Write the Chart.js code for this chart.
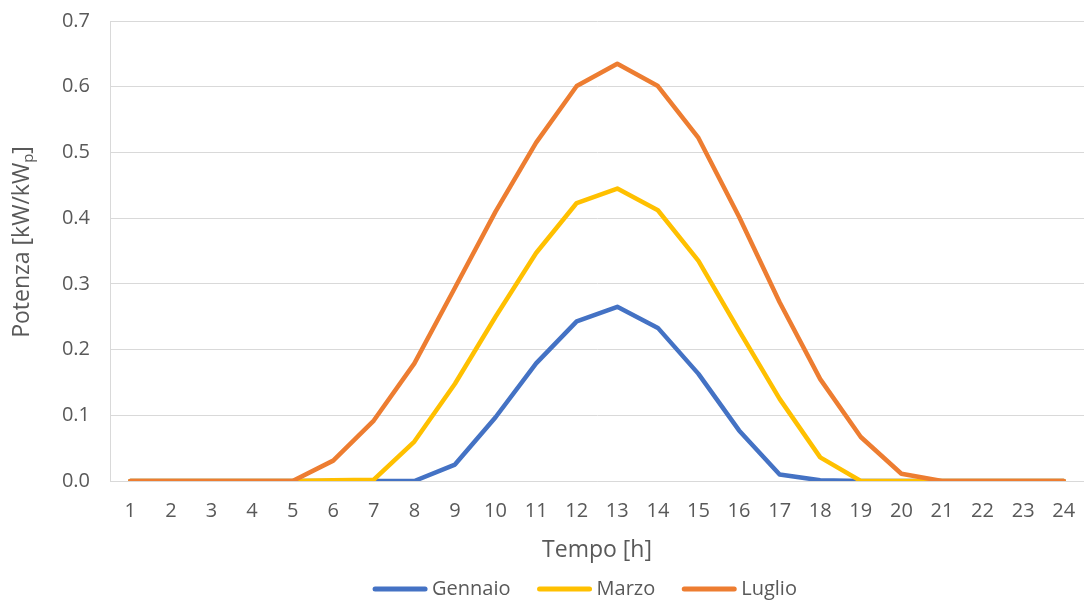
<!DOCTYPE html>
<html>
<head>
<meta charset="utf-8">
<script src="https://cdn.jsdelivr.net/npm/chart.js@4/dist/chart.umd.min.js"></script>
<style>
  html, body { margin: 0; padding: 0; background: #fff; }
  #wrap { width: 1084px; height: 602px; }
</style>
</head>
<body>
<div id="wrap"><canvas id="chart" width="1084" height="602"></canvas></div>
<script>
// hours of the day
const hours = ['1','2','3','4','5','6','7','8','9','10','11','12','13','14','15','16','17','18','19','20','21','22','23','24'];

// specific PV output per month [kW/kWp]
const gennaio = [0, 0, 0, 0, 0, 0, 0, 0, 0.025, 0.097, 0.179, 0.243, 0.265, 0.233, 0.163, 0.077, 0.01, 0.001, 0, 0, 0, 0, 0, 0];
const marzo   = [0, 0, 0, 0, 0, 0.001, 0.002, 0.06, 0.148, 0.25, 0.347, 0.423, 0.445, 0.412, 0.335, 0.229, 0.125, 0.036, 0, 0, 0, 0, 0, 0];
const luglio  = [0, 0, 0, 0, 0, 0.031, 0.092, 0.179, 0.294, 0.41, 0.515, 0.601, 0.635, 0.601, 0.522, 0.402, 0.272, 0.155, 0.067, 0.011, 0, 0, 0, 0];

const yTicks = [0, 0.1, 0.2, 0.3, 0.4, 0.5, 0.6, 0.7];

const FONT = "'Open Sans', sans-serif";
const TEXT = '#595959';

// y title with subscript p, drawn by hand
const yTitle = {
  id: 'yTitle',
  afterDraw(chart) {
    const ctx = chart.ctx;
    const main = 'Potenza [kW/kW';
    ctx.save();
    ctx.translate(22, 242);
    ctx.rotate(-Math.PI / 2);
    ctx.fillStyle = TEXT;
    ctx.textBaseline = 'middle';
    ctx.font = '23px ' + FONT;
    const w1 = ctx.measureText(main).width;
    ctx.font = '15px ' + FONT;
    const w2 = ctx.measureText('p').width;
    ctx.font = '23px ' + FONT;
    const w3 = ctx.measureText(']').width;
    let x = -(w1 + w2 + w3) / 2;
    ctx.textAlign = 'left';
    ctx.fillText(main, x, 0);
    x += w1;
    ctx.font = '15px ' + FONT;
    ctx.fillText('p', x, 7);
    x += w2;
    ctx.font = '23px ' + FONT;
    ctx.fillText(']', x, 0);
    ctx.restore();
  }
};

// legend row under the axis title: short line + series name
const lineLegend = {
  id: 'lineLegend',
  afterDraw(chart) {
    const ctx = chart.ctx;
    const sets = chart.data.datasets;
    const lineLen = 54, textGap = 5, itemGap = 27, y = 589;
    ctx.save();
    ctx.font = '20px ' + FONT;
    const widths = sets.map(d => ctx.measureText(d.label).width);
    const total = widths.reduce((a, w) => a + lineLen + textGap + w, 0) + itemGap * (sets.length - 1);
    let x = 585 - total / 2;
    sets.forEach((d, i) => {
      ctx.strokeStyle = d.borderColor;
      ctx.lineWidth = 5;
      ctx.lineCap = 'round';
      ctx.beginPath();
      ctx.moveTo(x + 2, y);
      ctx.lineTo(x + lineLen - 2, y);
      ctx.stroke();
      x += lineLen + textGap;
      ctx.fillStyle = TEXT;
      ctx.textAlign = 'left';
      ctx.textBaseline = 'middle';
      ctx.fillText(d.label, x, y);
      x += widths[i] + itemGap;
    });
    ctx.restore();
  }
};

// later series are drawn on top (lower order = drawn last)
function series(label, data, color, order) {
  return {
    label, data, order,
    borderColor: color,
    backgroundColor: color,
    borderWidth: 4.5,
    borderCapStyle: 'round',
    borderJoinStyle: 'round',
    pointRadius: 0,
    pointHoverRadius: 0,
    tension: 0
  };
}

new Chart(document.getElementById('chart'), {
  type: 'line',
  data: {
    labels: hours,
    datasets: [
      series('Gennaio', gennaio, '#4472C4', 3),
      series('Marzo', marzo, '#FFC000', 2),
      series('Luglio', luglio, '#ED7D31', 1)
    ]
  },
  options: {
    responsive: false,
    animation: false,
    layout: { autoPadding: false, padding: { top: 21, right: 0, left: 0, bottom: 26 } },
    scales: {
      x: {
        offset: true,
        afterFit(scale) {
          scale.height = 95;
          scale.paddingLeft = 0;
          scale.paddingRight = 0;
        },
        grid: { display: false, drawTicks: false },
        border: { color: '#d9d9d9', width: 1 },
        ticks: { color: TEXT, font: { family: FONT, size: 20 }, padding: 18, maxRotation: 0 },
        title: { display: true, text: 'Tempo [h]', color: TEXT, font: { family: FONT, size: 23 }, padding: { top: 0, bottom: 12 } }
      },
      y: {
        min: 0, max: 0.7,
        afterFit(scale) {
          scale.width = 110;
          scale.paddingTop = 0;
          scale.paddingBottom = 0;
        },
        afterBuildTicks(scale) { scale.ticks = yTicks.map(v => ({ value: v })); },
        grid: { color: '#d9d9d9', drawTicks: false },
        border: { color: '#d9d9d9', width: 1 },
        ticks: {
          color: TEXT, font: { family: FONT, size: 20 }, padding: 20,
          callback: v => Number(v).toFixed(1)
        }
      }
    },
    plugins: {
      tooltip: { enabled: false },
      legend: { display: false }
    }
  },
  plugins: [yTitle, lineLegend]
});
</script>
</body>
</html>
